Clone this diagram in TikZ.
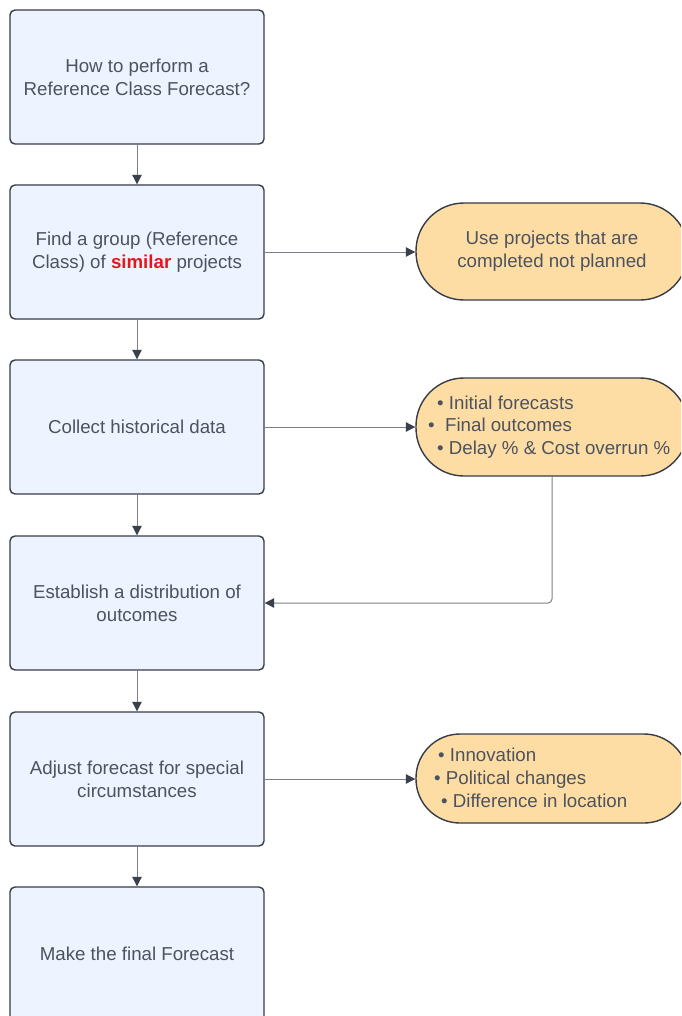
\documentclass[tikz,border=0pt]{standalone}
\usepackage{fontspec}
\setmainfont{Liberation Sans}
\usetikzlibrary{arrows.meta}
\definecolor{boxfill}{HTML}{EDF4FF}
\definecolor{boxline}{HTML}{363D47}
\definecolor{pillfill}{HTML}{FEDDA5}
\definecolor{txt}{HTML}{4C535E}
\definecolor{wire}{HTML}{7B8088}
\definecolor{tipc}{HTML}{3A414B}
\definecolor{hot}{HTML}{E8161B}
\begin{document}
\begin{tikzpicture}[x=1pt,y=-1pt,
  font=\fontsize{18.7}{22.8}\selectfont,
  stepbox/.style={draw=boxline,line width=1.4pt,fill=boxfill,rounded corners=5pt,
    minimum width=254pt,minimum height=134pt,inner sep=0pt,align=center,text=txt},
  pill/.style={draw=boxline,line width=1.4pt,fill=pillfill,rounded corners=#1,
    minimum width=272pt,inner sep=0pt,text=txt},
  conn/.style={draw=wire,line width=1pt,-{Triangle[length=9.5pt,width=9.5pt,color=tipc]}}
]
\clip (0,0) rectangle (681,1016);
\fill[white] (0,0) rectangle (681,1016);

\node[stepbox] (b1) at (137,77) {How to perform a\\Reference Class Forecast?};
\node[stepbox] (b2) at (137,252) {Find a group (Reference\\Class) of \textbf{\textcolor{hot}{similar}} projects};
\node[stepbox] (b3) at (137,427) {Collect historical data};
\node[stepbox] (b4) at (137,603) {Establish a distribution of\\outcomes};
\node[stepbox] (b5) at (137,779) {Adjust forecast for special\\circumstances};
\node[stepbox] (b6) at (137,954) {Make the final Forecast};

\node[pill=48pt,minimum height=97pt,align=center] (n1) at (552,251.5) {Use projects that are\\completed not planned};
\node[pill=48pt,minimum height=98pt] (n2) at (552,427) {};
\node[pill=44pt,minimum height=89pt] (n3) at (552,778.5) {};

\node[anchor=west,align=left,text=txt,inner sep=0pt] (t2) at (428,427)
  {\hspace{9pt}\textbullet\ Initial forecasts\\
   \textbullet\ \ Final outcomes\\
   \hspace{9pt}\textbullet\ Delay \% \& Cost overrun \%};
\node[anchor=west,align=left,text=txt,inner sep=0pt] (t3) at (434,778)
  {\hspace{4pt}\textbullet\ Innovation\\
   \textbullet\ Political changes\\
   \hspace{7pt}\textbullet\ Difference in location};

\draw[conn] (b1) -- (b2);
\draw[conn] (b2) -- (b3);
\draw[conn] (b3) -- (b4);
\draw[conn] (b4) -- (b5);
\draw[conn] (b5) -- (b6);
\draw[conn] (b2.east) -- (b2.east -| n1.west);
\draw[conn] (b3.east) -- (b3.east -| n2.west);
\draw[conn] (b5.east) -- (b5.east -| n3.west);
\draw[conn,rounded corners=4pt] (n2.south) |- (b4.east);
\end{tikzpicture}
\end{document}
